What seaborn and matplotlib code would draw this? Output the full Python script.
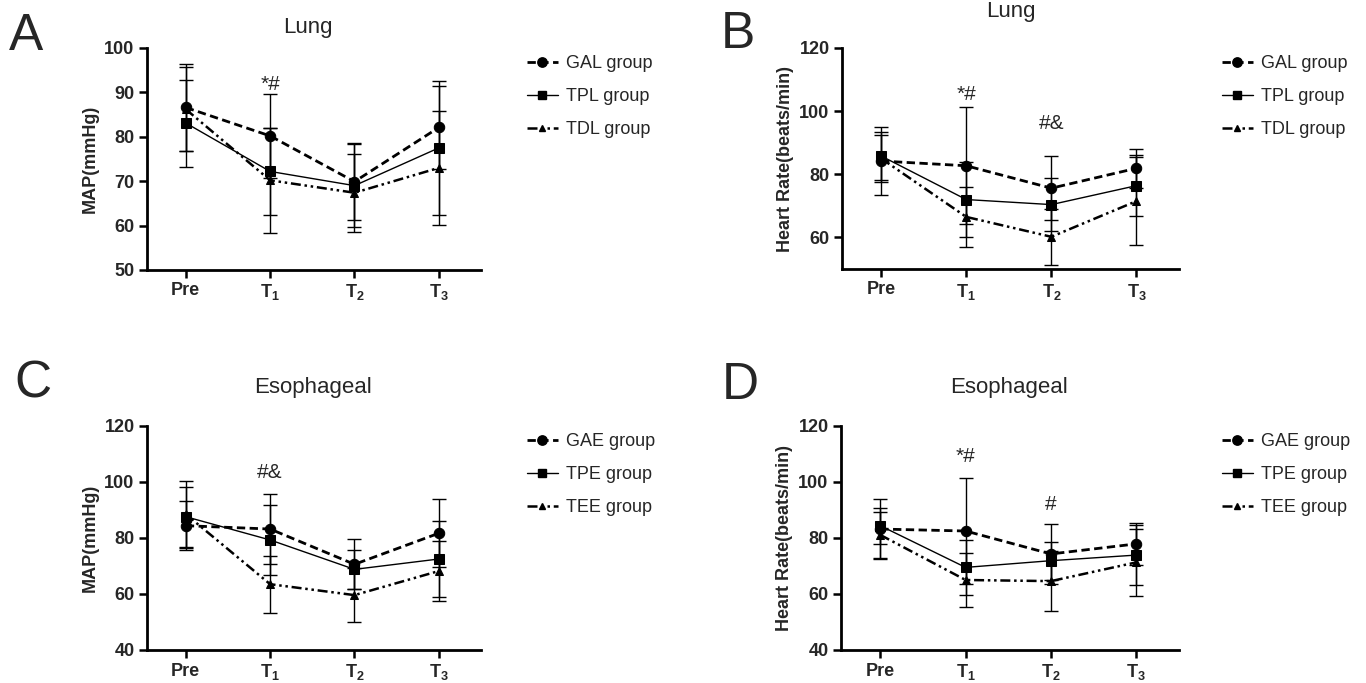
import matplotlib
matplotlib.use("Agg")
import matplotlib.pyplot as plt
import seaborn as sns
import pandas as pd
from matplotlib.lines import Line2D

# ---------------- data ----------------
timepoints = ["Pre", "T$_1$", "T$_2$", "T$_3$"]

# Panel A: Lung MAP
a_groups = ["GAL group", "TPL group", "TDL group"]
a_gal_mean = [86.6, 80.2, 69.9, 82.1]
a_gal_sd = [9.8, 9.4, 8.7, 9.3]
a_tpl_mean = [83.1, 72.2, 69.0, 77.5]
a_tpl_sd = [9.8, 9.8, 9.3, 15.0]
a_tdl_mean = [86.2, 70.2, 67.4, 73.0]
a_tdl_sd = [9.5, 11.8, 8.8, 12.8]

# Panel B: Lung Heart rate
b_gal_mean = [84.2, 82.7, 75.6, 81.9]
b_gal_sd = [10.9, 18.6, 10.1, 6.2]
b_tpl_mean = [85.8, 72.0, 70.4, 76.4]
b_tpl_sd = [7.7, 12.0, 8.3, 9.6]
b_tdl_mean = [85.0, 66.5, 60.2, 71.5]
b_tdl_sd = [7.5, 9.4, 8.8, 14.0]

# Panel C: Esophageal MAP
c_groups = ["GAE group", "TPE group", "TEE group"]
c_gae_mean = [84.4, 83.2, 70.6, 81.7]
c_gae_sd = [8.8, 12.4, 8.9, 12.1]
c_tpe_mean = [87.6, 79.3, 68.8, 72.5]
c_tpe_sd = [10.7, 12.5, 7.0, 13.6]
c_tee_mean = [88.5, 63.5, 59.6, 68.2]
c_tee_sd = [11.9, 10.2, 9.7, 10.8]

# Panel D: Esophageal Heart rate
d_gae_mean = [83.2, 82.5, 74.3, 77.9]
d_gae_sd = [10.6, 19.0, 10.7, 7.6]
d_tpe_mean = [84.4, 69.5, 71.9, 73.9]
d_tpe_sd = [6.4, 9.8, 6.8, 10.7]
d_tee_mean = [81.1, 65.0, 64.6, 71.3]
d_tee_sd = [8.3, 9.8, 10.6, 11.9]

# significance annotations: (time index, y value, text)
a_notes = [(1, 91.8, "*#")]
b_notes = [(1, 105.2, "*#"), (2, 96.2, "#&")]
c_notes = [(1, 103.3, "#&")]
d_notes = [(1, 109.0, "*#"), (2, 92.1, "#")]

# ---------------- style ----------------
sns.set_style("ticks")
FAM = ["Liberation Sans", "DejaVu Sans"]
plt.rcParams["font.family"] = FAM
plt.rcParams["mathtext.fontset"] = "custom"
plt.rcParams["mathtext.rm"] = "Liberation Sans:bold"
plt.rcParams["mathtext.bf"] = "Liberation Sans:bold"
plt.rcParams["mathtext.it"] = "Liberation Sans:bold"
plt.rcParams["mathtext.default"] = "rm"

W, H = 1366, 683
fig = plt.figure(figsize=(W / 100, H / 100), dpi=100)

styles = [
    dict(marker="o", linestyle=(0, (3, 1.6)), lw=2.0, ms=7.5),
    dict(marker="s", linestyle="-", lw=1.0, ms=7),
    dict(marker="^", linestyle=(0, (4, 1.5, 1, 1.5, 1, 1.5)), lw=1.8, ms=5.5),
]


def px_rect(l, t, r, b):
    return [l / W, 1 - b / H, (r - l) / W, (b - t) / H]


def panel(rect, groups, means, sds, ylim, yticks, ylabel, notes, title, title_xy,
          letter, letter_xy, legend_xy):
    ax = fig.add_axes(px_rect(*rect))
    x = list(range(len(timepoints)))
    handles = []
    for g, m, s, st in zip(groups, means, sds, styles):
        ax.errorbar(x, m, yerr=s, fmt="none", ecolor="black", elinewidth=1.0,
                    capsize=5, capthick=1.0, zorder=2)
        df = pd.DataFrame({"x": x, "y": m})
        sns.lineplot(data=df, x="x", y="y", ax=ax, color="black",
                     marker=st["marker"], markersize=st["ms"],
                     linestyle=st["linestyle"], linewidth=st["lw"],
                     markeredgecolor="black", zorder=3)
        handles.append(Line2D([], [], color="black", marker=st["marker"],
                              markersize=st["ms"] * 0.9, linestyle=st["linestyle"],
                              linewidth=st["lw"], label=g))
    ax.set_xlim(-0.46, 3.5)
    ax.set_ylim(*ylim)
    ax.set_yticks(yticks)
    ax.set_xticks(x)
    ax.set_xticklabels(timepoints)
    for lab in ax.get_xticklabels() + ax.get_yticklabels():
        lab.set_fontweight("bold")
        lab.set_fontsize(13)
    ax.set_xlabel("")
    ax.set_ylabel(ylabel, fontsize=13, fontweight="bold")
    sns.despine(ax=ax)
    for sp in ["left", "bottom"]:
        ax.spines[sp].set_linewidth(2.0)
        ax.spines[sp].set_color("black")
    ax.tick_params(axis="both", direction="out", length=6, width=1.8,
                   color="black", pad=3)
    ax.tick_params(axis="x", pad=3)
    for (i, yv, t) in notes:
        ax.text(i, yv, t, ha="center", va="center", fontsize=15)
    fig.text(title_xy[0] / W, 1 - title_xy[1] / H, title, ha="center",
             va="center", fontsize=16)
    fig.text(letter_xy[0] / W, 1 - letter_xy[1] / H, letter, ha="center",
             va="center", fontsize=37)
    fig.legend(handles=handles, loc="upper left",
               bbox_to_anchor=(legend_xy[0] / W, 1 - legend_xy[1] / H),
               frameon=False, fontsize=13, handlelength=1.7,
               handletextpad=0.45, labelspacing=0.9, borderpad=0,
               borderaxespad=0)
    return ax


panel((147, 48, 481, 270), a_groups,
      [a_gal_mean, a_tpl_mean, a_tdl_mean], [a_gal_sd, a_tpl_sd, a_tdl_sd],
      (50, 100), [50, 60, 70, 80, 90, 100], "MAP(mmHg)", a_notes,
      "Lung", (308, 27), "A", (26, 37), (527, 55))

panel((842, 48, 1179, 269), a_groups,
      [b_gal_mean, b_tpl_mean, b_tdl_mean], [b_gal_sd, b_tpl_sd, b_tdl_sd],
      (50, 120), [60, 80, 100, 120], "Heart Rate(beats/min)", b_notes,
      "Lung", (1011, 11), "B", (738, 35), (1222, 55))

panel((147, 426, 481, 650), c_groups,
      [c_gae_mean, c_tpe_mean, c_tee_mean], [c_gae_sd, c_tpe_sd, c_tee_sd],
      (40, 120), [40, 60, 80, 100, 120], "MAP(mmHg)", c_notes,
      "Esophageal", (313, 387), "C", (33, 384), (527, 433))

panel((841, 426, 1179, 650), c_groups,
      [d_gae_mean, d_tpe_mean, d_tee_mean], [d_gae_sd, d_tpe_sd, d_tee_sd],
      (40, 120), [40, 60, 80, 100, 120], "Heart Rate(beats/min)", d_notes,
      "Esophageal", (1009, 387), "D", (740, 385), (1222, 433))

fig.savefig("out.png", dpi=100, facecolor="white")
